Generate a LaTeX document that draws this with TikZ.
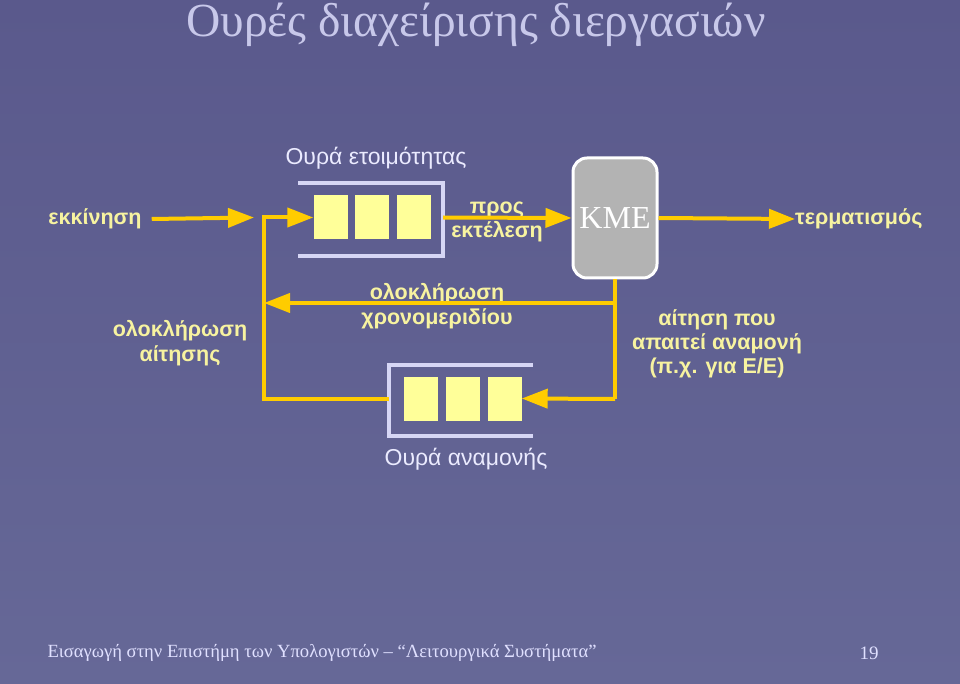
\documentclass[tikz,border=0pt]{standalone}
\usepackage{fontspec}
\setmainfont{Liberation Serif}
\newfontfamily\labelfont{Liberation Sans}
\usetikzlibrary{arrows.meta,positioning}
\definecolor{slidetop}{HTML}{5A598C}
\definecolor{slidebot}{HTML}{666897}
\definecolor{titlecol}{HTML}{C8C8EA}
\definecolor{flowyellow}{HTML}{FFCC00}
\definecolor{slotyellow}{HTML}{FFFF99}
\definecolor{labelyellow}{HTML}{F7F3A0}
\definecolor{bracketcol}{HTML}{D6D6F5}
\definecolor{cpugray}{HTML}{B3B3B3}
\tikzset{
  line/.style={draw=flowyellow, line width=4pt},
  flow/.style={line, -{Triangle[length=26pt,width=19pt]}},
  slot/.style={fill=slotyellow, minimum width=34pt, minimum height=44pt, inner sep=0pt},
  lbl/.style={text=labelyellow, font=\labelfont\bfseries\fontsize{21.5}{24.5}\selectfont, align=center, inner sep=0pt},
  qname/.style={text=white!92!blue, font=\labelfont\fontsize{23}{26}\selectfont, inner sep=0pt},
  bracket/.style={draw=bracketcol, line width=4pt},
}
\begin{document}
\begin{tikzpicture}[x=1pt,y=-1pt]
  \useasboundingbox (0,0) rectangle (960,684);
  \shade[top color=slidetop, bottom color=slidebot] (0,0) rectangle (960,684);
  \node[text=titlecol, font=\fontsize{47.5}{52}\selectfont, anchor=base] (title) at (476,37) {Ουρές διαχείρισης διεργασιών};
  % ready queue
  \draw[bracket] (298,183) -- (443,183) -- (443,256) -- (298,256);
  \node[slot] (rq1) at (330.5,217.5) {};
  \node[slot] (rq2) at (372,217.5) {};
  \node[slot] (rq3) at (413.5,217.5) {};
  \node[qname] (rqname) at (376,158) {Ουρά ετοιμότητας};
  % waiting queue
  \draw[bracket] (533,365) -- (389,365) -- (389,436) -- (533,436);
  \node[slot] (wq1) at (420.5,398.5) {};
  \node[slot] (wq2) at (463,398.5) {};
  \node[slot] (wq3) at (504.5,398.5) {};
  \node[qname] (wqname) at (466,459) {Ουρά αναμονής};
  % processor
  \node[draw=white, line width=3pt, fill=cpugray, rounded corners=14pt,
    minimum width=84pt, minimum height=120pt, text=white,
    font=\fontsize{32}{36}\selectfont] (cpu) at (615,218) {KME};
  % labels
  \node[lbl] (start) at (95,219) {εκκίνηση};
  \node[lbl, anchor=west] (stop) at (795,219) {τερματισμός};
  \node[lbl] (toexec) at (497,222) {προς\\εκτέλεση};
  \node[lbl] (slice) at (437,306) {ολοκλήρωση\\χρονομεριδίου};
  \node[lbl] (reqdone) at (180,343) {ολοκλήρωση\\αίτησης};
  \node[lbl, font=\labelfont\bfseries\fontsize{21.5}{24}\selectfont] (reqwait) at (717,344) {αίτηση που\\απαιτεί αναμονή\\(π.χ. για Ε/Ε)};
  % connectors
  \coordinate (startend) at (254,217.5);
  \coordinate (rqout) at (443,217.5);
  \coordinate (sw) at (264,399);
  \coordinate (wqout) at (389,399);
  \coordinate (tsj) at (615,303);
  \coordinate (waitj) at (615,399);
  \draw[flow] (start.east) ++(10,0) -- (startend);
  \draw[flow] (wqout) -- (sw) |- (rq1.west);
  \draw[flow] (rqout) -- (cpu.west);
  \draw[flow] (cpu.east) -- (stop.west);
  \draw[line] (cpu.south) -- (waitj);
  \draw[flow] (tsj) -- (tsj -| sw);
  \draw[flow] (waitj) -- (wq3.east);
  % footer
  \node[text=white!88!blue, font=\fontsize{18.6}{22}\selectfont, anchor=west] (foot) at (44,653) {Εισαγωγή στην Επιστήμη των Υπολογιστών – “Λειτουργικά Συστήματα”};
  \node[text=white!88!blue, font=\fontsize{19}{22}\selectfont] (page) at (869,653) {19};
\end{tikzpicture}
\end{document}
